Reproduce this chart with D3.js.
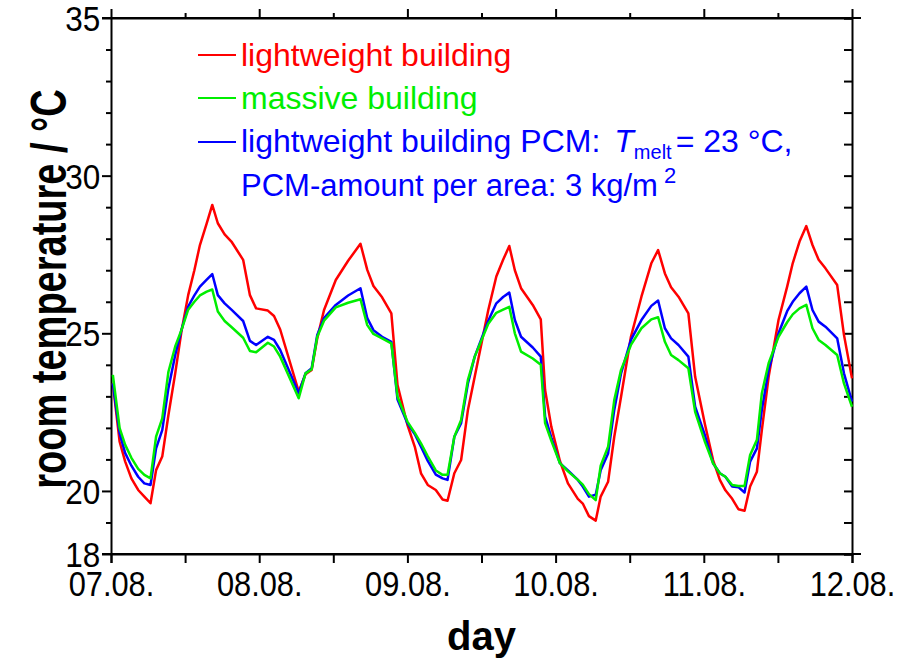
<!DOCTYPE html>
<html>
<head>
<meta charset="utf-8">
<script src="https://cdn.jsdelivr.net/npm/d3@7"></script>
<style>
  body { margin: 0; background: #fff; }
  svg { display: block; font-family: Arial, "Liberation Sans", sans-serif; }
</style>
</head>
<body>
<div id="chart"></div>
<script>
// hours since 07.08. 00:00
var hours = [0.3, 1.4, 2.3, 3.3, 4.4, 5.4, 6.4, 7.3, 8.3, 9.3, 10.4, 11.4, 12.5, 13.5, 14.4, 15.5, 16.4, 17.3, 18.4, 19.5, 21.4, 22.5, 23.5,
  25.4, 26.4, 27.4, 30.4, 31.5, 32.5, 33.4, 34.5, 36.4, 38.4, 40.4, 41.5, 42.5, 43.9, 45.4, 46.4, 48.0,
  49.2, 50.2, 51.3, 52.6, 53.7, 54.5, 55.6, 56.7, 57.8, 58.9, 61.1, 62.4, 63.5, 64.5, 65.4, 66.4, 68.3, 69.6, 70.3, 71.3,
  72.7, 74.0, 75.6, 76.4, 77.4, 78.5, 79.3, 80.5, 81.5, 82.6, 84.2, 85.9, 87.5, 88.6, 89.7, 90.7, 91.9, 93.5, 94.6,
  96.2, 97.5, 98.6, 99.5, 100.6, 101.6, 102.6, 103.5, 104.6, 105.4, 106.5, 108.1, 109.5, 110.4, 111.5, 112.6, 113.6, 114.6, 115.7, 117.6, 118.7, 120];

var lightweight = [23.41, 21.56, 20.93, 20.40, 20.03, 19.82, 19.61, 20.66, 21.09, 22.41, 23.73, 25.05, 26.21, 27.00, 27.80, 28.49, 29.07, 28.49, 28.14, 27.91, 27.33, 26.21, 25.79,
  25.72, 25.55, 25.12, 23.15, 23.70, 23.84, 24.84, 25.74, 26.69, 27.30, 27.84, 27.01, 26.50, 26.14, 25.63, 23.36, 22.10,
  21.40, 20.56, 20.19, 20.03, 19.73, 19.69, 20.56, 20.98, 22.57, 23.62, 25.74, 26.80, 27.33, 27.77, 27.00, 26.43, 25.90, 25.44, 23.20, 22.04,
  20.95, 20.24, 19.75, 19.60, 19.20, 19.06, 19.82, 20.29, 21.72, 22.99, 24.89, 26.16, 27.22, 27.64, 26.90, 26.46, 26.16, 25.63, 23.62,
  22.10, 20.98, 20.35, 20.02, 19.75, 19.42, 19.37, 20.14, 20.61, 21.93, 23.62, 25.42, 26.48, 27.22, 27.91, 28.40, 27.80, 27.33, 27.06, 26.53, 24.95, 23.57];

var massive = [23.68, 21.99, 21.46, 21.05, 20.70, 20.51, 20.40, 21.72, 22.30, 23.78, 24.58, 25.10, 25.75, 26.00, 26.20, 26.32, 26.39, 25.69, 25.39, 25.20, 24.86, 24.44, 24.40,
  24.70, 24.58, 24.26, 22.94, 23.73, 23.86, 24.89, 25.40, 25.82, 25.97, 26.08, 25.26, 24.98, 24.84, 24.68, 22.99, 22.20,
  21.84, 21.51, 21.10, 20.65, 20.51, 20.51, 21.72, 22.25, 23.52, 24.26, 25.30, 25.65, 25.75, 25.84, 25.00, 24.42, 24.20, 24.00, 22.15, 21.60,
  20.88, 20.62, 20.35, 20.20, 19.90, 19.71, 20.80, 21.40, 22.88, 23.84, 24.63, 25.16, 25.44, 25.51, 24.73, 24.31, 24.15, 23.89, 22.51,
  21.55, 20.88, 20.56, 20.45, 20.19, 20.16, 20.16, 21.14, 21.62, 23.10, 24.05, 24.89, 25.35, 25.60, 25.79, 25.90, 25.16, 24.79, 24.63, 24.31, 23.41, 22.67];

var lightweightPCM = [23.41, 21.83, 21.20, 20.80, 20.45, 20.24, 20.19, 21.35, 21.93, 23.26, 24.31, 25.10, 25.85, 26.20, 26.48, 26.70, 26.88, 26.21, 25.95, 25.75, 25.39, 24.76, 24.63,
  24.89, 24.79, 24.47, 23.10, 23.73, 23.89, 24.95, 25.48, 25.90, 26.20, 26.43, 25.48, 25.10, 24.89, 24.73, 22.90, 22.15,
  21.80, 21.40, 20.95, 20.52, 20.40, 20.35, 21.72, 22.15, 23.41, 24.26, 25.40, 25.95, 26.15, 26.29, 25.42, 24.89, 24.55, 24.26, 22.36, 21.70,
  20.88, 20.65, 20.35, 20.14, 19.82, 19.88, 20.66, 21.19, 22.57, 23.73, 24.79, 25.42, 25.87, 26.04, 25.16, 24.84, 24.63, 24.26, 22.67,
  21.75, 20.88, 20.56, 20.45, 20.14, 20.12, 19.95, 20.93, 21.35, 22.57, 23.84, 25.00, 25.70, 26.00, 26.27, 26.48, 25.74, 25.37, 25.21, 24.84, 23.73, 22.83];

var dayLabels = ["07.08.", "08.08.", "09.08.", "10.08.", "11.08.", "12.08."];
var yTickLabels = [18, 20, 25, 30, 35];

var width = 904, height = 661;
var plotLeft = 111, plotRight = 852, plotTop = 18, plotBottom = 554;

var svg = d3.select("#chart").append("svg")
  .attr("width", width)
  .attr("height", height);

var x = d3.scaleLinear().domain([0, 120]).range([plotLeft, plotRight]);
var y = d3.scaleLinear().domain([18, 35]).range([plotBottom, plotTop]);

var halfDays = d3.range(0, 121, 12);
var units = d3.range(18, 36);

// bottom axis
var gBottom = svg.append("g")
  .attr("transform", "translate(0," + plotBottom + ")")
  .call(d3.axisBottom(x).tickValues(halfDays).tickSizeOuter(0).tickSize(9)
    .tickFormat(function (d) { return d % 24 === 0 ? dayLabels[d / 24] : ""; }));
gBottom.selectAll("text")
  .attr("y", 17)
  .attr("dy", "0.71em")
  .attr("transform", "scale(0.88,1)")
  .style("font-size", "35px")
  .style("fill", "#000");

// top axis
var gTop = svg.append("g")
  .attr("transform", "translate(0," + plotTop + ")")
  .call(d3.axisTop(x).tickValues(halfDays).tickSizeOuter(0).tickFormat(""));
gTop.selectAll(".tick line").attr("y2", function (d) { return d % 24 === 0 ? -9 : -5; });

// left axis
var gLeft = svg.append("g")
  .attr("transform", "translate(" + plotLeft + ",0)")
  .call(d3.axisLeft(y).tickValues(units).tickSizeOuter(0)
    .tickFormat(function (d) { return yTickLabels.indexOf(d) >= 0 ? d : ""; }));
gLeft.selectAll(".tick line").attr("x2", function (d) { return yTickLabels.indexOf(d) >= 0 ? -9 : -5; });
gLeft.selectAll("text")
  .attr("x", -12)
  .attr("dy", "0.36em")
  .style("font-size", "35px")
  .attr("transform", "scale(0.9,1)")
  .style("fill", "#000");

// right axis
var gRight = svg.append("g")
  .attr("transform", "translate(" + plotRight + ",0)")
  .call(d3.axisLeft(y).tickValues(units).tickSizeOuter(0).tickSize(8).tickFormat(""));

svg.selectAll(".domain, .tick line")
  .attr("stroke", "#000")
  .attr("stroke-width", 2);

// frame overhangs of the horizontal axes
svg.append("line").attr("x1", plotLeft - 9).attr("x2", plotRight + 9).attr("y1", plotTop).attr("y2", plotTop)
  .attr("stroke", "#000").attr("stroke-width", 2);
svg.append("line").attr("x1", plotLeft - 9).attr("x2", plotRight + 9).attr("y1", plotBottom).attr("y2", plotBottom)
  .attr("stroke", "#000").attr("stroke-width", 2);

// series
var series = [
  { name: "lightweight building", values: lightweight, color: "#ff0000" },
  { name: "massive building", values: massive, color: "#00ee00" },
  { name: "lightweight building PCM", values: lightweightPCM, color: "#0000ff" }
];

var line = d3.line()
  .x(function (d, i) { return x(hours[i]); })
  .y(function (d) { return y(d); });

svg.append("g").selectAll("path")
  .data([series[0], series[2], series[1]])
  .enter()
  .append("path")
  .attr("d", function (d) { return line(d.values); })
  .attr("fill", "none")
  .attr("stroke", function (d) { return d.color; })
  .attr("stroke-width", 2.5)
  .attr("stroke-linejoin", "round");

// legend
var legendY = [55, 98, 142];
var legend = svg.append("g").selectAll("g")
  .data(series)
  .enter()
  .append("g");
legend.append("line")
  .attr("x1", 198).attr("x2", 236)
  .attr("y1", function (d, i) { return legendY[i]; })
  .attr("y2", function (d, i) { return legendY[i]; })
  .attr("stroke", function (d) { return d.color; })
  .attr("stroke-width", 2);

var fs = 32;
svg.append("text").attr("x", 241).attr("y", 66).style("font-size", fs + "px").attr("fill", "#ff0000")
  .text("lightweight building");
svg.append("text").attr("x", 241).attr("y", 109).style("font-size", fs + "px").attr("fill", "#00ee00")
  .text("massive building");
var t3 = svg.append("text").attr("x", 241).attr("y", 152).style("font-size", fs + "px").attr("fill", "#0000ff");
t3.append("tspan").text("lightweight building PCM:");
t3.append("tspan").attr("dx", 14).style("font-style", "italic").text("T");
t3.append("tspan").attr("dy", 7).style("font-size", "20px").text("melt");
t3.append("tspan").attr("dy", -7).attr("dx", 4).text("= 23 °C,");
var t4 = svg.append("text").attr("x", 241).attr("y", 196).style("font-size", "31px").attr("fill", "#0000ff");
t4.append("tspan").text("PCM-amount per area: 3 kg/m");
t4.append("tspan").attr("dx", 6).attr("dy", -13).style("font-size", "22px").text("2");

// axis titles
svg.append("text")
  .attr("transform", "translate(66,289) rotate(-90) scale(1,1.3)")
  .attr("text-anchor", "middle")
  .style("font-size", "38px")
  .style("font-weight", "bold")
  .text("room temperature / °C");

svg.append("text")
  .attr("x", (plotLeft + plotRight) / 2)
  .attr("y", 650)
  .attr("text-anchor", "middle")
  .style("font-size", "40px")
  .style("font-weight", "bold")
  .text("day");
</script>
</body>
</html>
